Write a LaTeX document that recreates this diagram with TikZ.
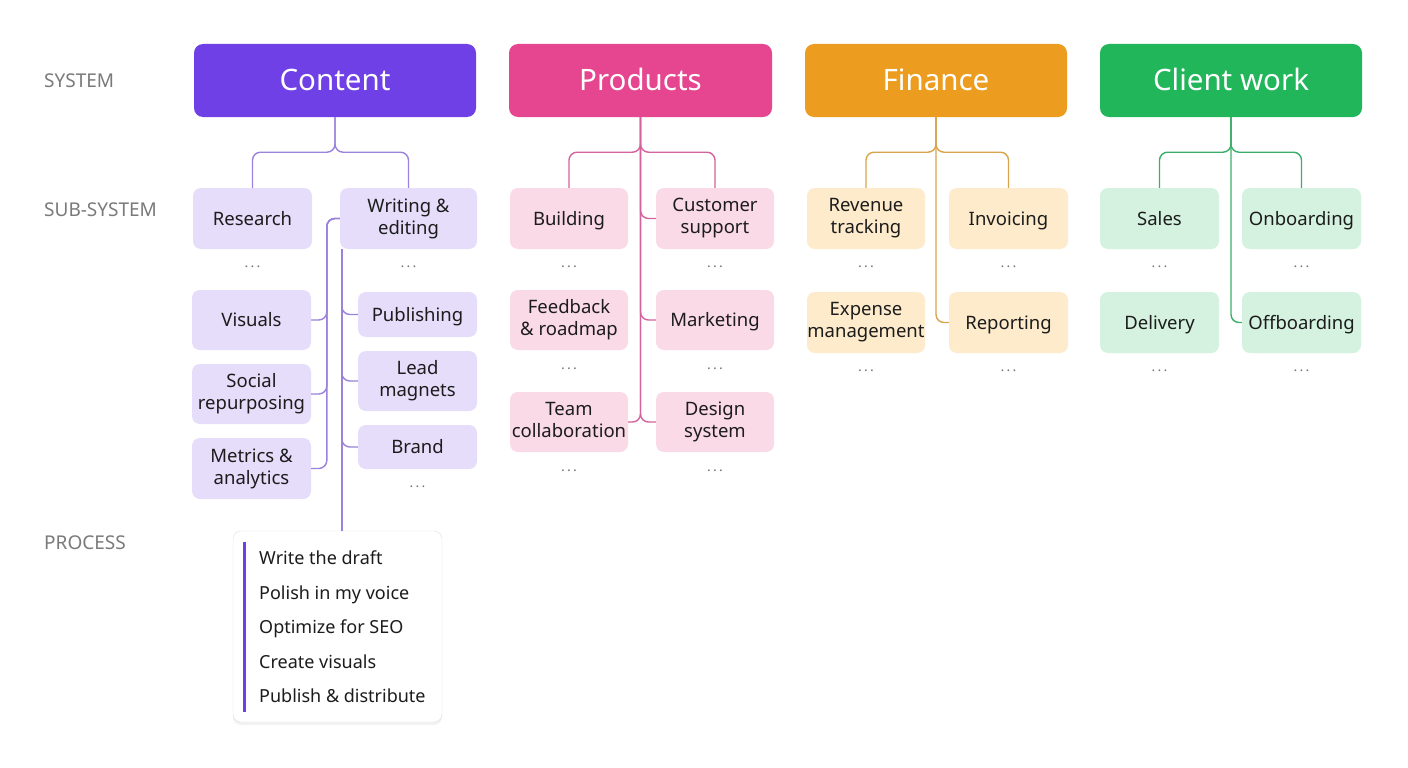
\documentclass[tikz,border=0pt]{standalone}
\usepackage{fontspec}
\setmainfont{Noto Sans}
\usetikzlibrary{calc,shadows}
\definecolor{cHead}{HTML}{6E40E6}
\definecolor{pHead}{HTML}{E5468F}
\definecolor{fHead}{HTML}{EC9C1E}
\definecolor{gHead}{HTML}{22B65A}
\definecolor{cFill}{HTML}{E5DDFA}
\definecolor{pFill}{HTML}{FADAE6}
\definecolor{fFill}{HTML}{FDEBCB}
\definecolor{gFill}{HTML}{D4F2DF}
\definecolor{cLine}{HTML}{9B82DB}
\definecolor{pLine}{HTML}{D4629C}
\definecolor{fLine}{HTML}{D8A44C}
\definecolor{gLine}{HTML}{3CAE69}
\definecolor{txt}{HTML}{1C1C1C}
\definecolor{lbl}{HTML}{7A7A7A}
\newcommand{\mydots}{.\kern2.2pt.\kern2.2pt.}
\newcommand{\mystrut}{\rule[-4.4pt]{0pt}{22pt}}
\tikzset{
  sysbox/.style={fill=#1, rounded corners=9pt, minimum height=73pt, text=white,
    font=\fontsize{29.5}{32}\selectfont, inner sep=0pt, text height=21pt, text depth=0pt},
  subbox/.style={fill=#1, rounded corners=8pt, minimum height=61pt, minimum width=119pt,
    font=\fontsize{18.5}{22}\selectfont, align=center, inner sep=0pt, text=txt,
    execute at begin node=\mystrut, execute at end node=\mystrut},
  dots/.style={text=lbl, font=\fontsize{14}{14}\selectfont, inner sep=0pt},
  conn/.style={draw=#1, line width=1.4pt, rounded corners=8pt},
  lvl/.style={text=lbl, font=\fontsize{19}{19}\selectfont, anchor=base west, inner sep=0pt},
  item/.style={text=txt, font=\fontsize{18}{20}\selectfont, anchor=base west, inner sep=0pt},
}
\begin{document}
\begin{tikzpicture}[x=1pt,y=-1pt]
\useasboundingbox[fill=white] (0,0) rectangle (1408,768);

% level labels
\node[lvl] (lsys) at (44,88) {SYSTEM};
\node[lvl] (lsub) at (44,216) {SUB-SYSTEM};
\node[lvl] (lproc) at (44,549) {PROCESS};

% system headers
\node[sysbox=cHead, minimum width=282pt] (content) at (335,80.5) {Content};
\node[sysbox=pHead, minimum width=263pt] (products) at (640.5,80.5) {Products};
\node[sysbox=fHead, minimum width=262pt] (finance) at (936,80.5) {Finance};
\node[sysbox=gHead, minimum width=262pt] (client) at (1231,80.5) {Client work};

% ---------- Content ----------
\node[subbox=cFill] (research) at (252.5,218.5) {Research};
\node[subbox=cFill, minimum width=137pt] (writing) at (408.5,218.5) {Writing \&\\editing};
\node[subbox=cFill, minimum height=60pt] (visuals) at (251.5,320) {Visuals};
\node[subbox=cFill, minimum height=60pt] (social) at (251.5,394) {Social\\repurposing};
\node[subbox=cFill] (metrics) at (251.5,468.5) {Metrics \&\\analytics};
\node[subbox=cFill, minimum height=45pt] (publishing) at (417.5,314.5) {Publishing};
\node[subbox=cFill, minimum height=60pt] (lead) at (417.5,381) {Lead\\magnets};
\node[subbox=cFill, minimum height=44pt] (brand) at (417.5,447) {Brand};
\node[dots] (d1) at (252.5,267) {\mydots};
\node[dots] (d2) at (408.5,267) {\mydots};
\node[dots] (d3) at (417.5,487) {\mydots};

\coordinate (cj) at ($(content.south)+(0,35)$);
\draw[conn=cLine] (content.south) -- (cj) -| (research.north);
\draw[conn=cLine] (content.south) -- (cj) -| (writing.north);
\coordinate (cw) at ($(writing.west)+(-13,0)$);
\draw[conn=cLine] (writing.west) -- (cw) |- (visuals.east);
\draw[conn=cLine] (writing.west) -- (cw) |- (social.east);
\draw[conn=cLine] (writing.west) -- (cw) |- (metrics.east);

% process box
\node[draw=black!12, fill=white, rounded corners=8pt, minimum width=209pt, minimum height=191pt,
  drop shadow={shadow xshift=0pt, shadow yshift=-3pt, opacity=0.10}] (process) at (337.5,626.5) {};
\coordinate (wv) at ($(writing.south west)+(2,0)$);
\draw[conn=cLine] (wv) -- (wv |- process.north);
\draw[conn=cLine] (wv) |- (publishing.west);
\draw[conn=cLine] (wv) |- (lead.west);
\draw[conn=cLine] (wv) |- (brand.west);
\draw[line width=3pt, cHead] ($(process.north west)+(12,11)$) -- ($(process.south west)+(12,-10)$);
\node[item] (i1) at (259,564.5) {Write the draft};
\node[item] (i2) at (259,599.5) {Polish in my voice};
\node[item] (i3) at (259,633.5) {Optimize for SEO};
\node[item] (i4) at (259,668.5) {Create visuals};
\node[item] (i5) at (259,702.5) {Publish \& distribute};

% ---------- Products ----------
\node[subbox=pFill, minimum width=118pt] (building) at (569,218.5) {Building};
\node[subbox=pFill, minimum width=118pt] (customer) at (715,218.5) {Customer\\support};
\node[subbox=pFill, minimum width=118pt, minimum height=60pt] (feedback) at (569,320) {Feedback\\\& roadmap};
\node[subbox=pFill, minimum width=118pt, minimum height=60pt] (marketing) at (715,320) {Marketing};
\node[subbox=pFill, minimum width=118pt, minimum height=60pt] (team) at (569,422) {Team\\collaboration};
\node[subbox=pFill, minimum width=118pt, minimum height=60pt] (design) at (715,422) {Design\\system};
\node[dots] at (569,267) {\mydots};
\node[dots] at (715,267) {\mydots};
\node[dots] at (569,369) {\mydots};
\node[dots] at (715,369) {\mydots};
\node[dots] at (569,471) {\mydots};
\node[dots] at (715,471) {\mydots};

\coordinate (pj) at ($(products.south)+(0,35)$);
\draw[conn=pLine] (products.south) -- (pj) -| (building.north);
\draw[conn=pLine] (products.south) -- (pj) -| (customer.north);
\draw[conn=pLine] (products.south) |- (customer.west);
\draw[conn=pLine] (products.south) |- (marketing.west);
\draw[conn=pLine] (products.south) |- (team.east);
\draw[conn=pLine] (products.south) |- (design.west);

% ---------- Finance ----------
\node[subbox=fFill, minimum width=118pt] (revenue) at (866,218.5) {Revenue\\tracking};
\node[subbox=fFill] (invoicing) at (1008.5,218.5) {Invoicing};
\node[subbox=fFill, minimum width=118pt] (expense) at (866,322.5) {Expense\\management};
\node[subbox=fFill] (reporting) at (1008.5,322.5) {Reporting};
\node[dots] at (866,267) {\mydots};
\node[dots] at (1008.5,267) {\mydots};
\node[dots] at (866,371) {\mydots};
\node[dots] at (1008.5,371) {\mydots};

\coordinate (fj) at ($(finance.south)+(0,35)$);
\draw[conn=fLine] (finance.south) -- (fj) -| (revenue.north);
\draw[conn=fLine] (finance.south) -- (fj) -| (invoicing.north);
\draw[conn=fLine] (finance.south) |- (reporting.west);

% ---------- Client work ----------
\node[subbox=gFill] (sales) at (1159.5,218.5) {Sales};
\node[subbox=gFill] (onboarding) at (1301.5,218.5) {Onboarding};
\node[subbox=gFill] (delivery) at (1159.5,322.5) {Delivery};
\node[subbox=gFill] (offboarding) at (1301.5,322.5) {Offboarding};
\node[dots] at (1159.5,267) {\mydots};
\node[dots] at (1301.5,267) {\mydots};
\node[dots] at (1159.5,371) {\mydots};
\node[dots] at (1301.5,371) {\mydots};

\coordinate (gj) at ($(client.south)+(0,35)$);
\draw[conn=gLine] (client.south) -- (gj) -| (sales.north);
\draw[conn=gLine] (client.south) -- (gj) -| (onboarding.north);
\draw[conn=gLine] (client.south) |- (offboarding.west);
\end{tikzpicture}
\end{document}
